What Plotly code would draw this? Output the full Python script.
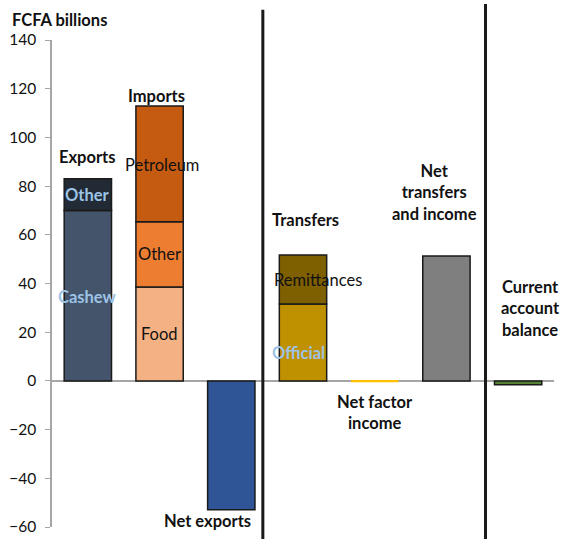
import plotly.graph_objects as go

# Balance of payments components, FCFA billions
categories = ["Exports", "Imports", "Net exports", "Transfers",
              "Net factor income", "Net transfers and income",
              "Current account balance"]

exports_cashew = 70.0
exports_other = 13.0
imports_food = 38.6
imports_other = 26.8
imports_petroleum = 47.5
net_exports = -52.9
transfers_official = 31.6
transfers_remittances = 20.1
net_factor_income = -0.6
net_transfers_income = 51.3
current_account = -1.6

y_ticks = [-60, -40, -20, 0, 20, 40, 60, 80, 100, 120, 140]

FONT = "Lato"
LABEL_SIZE = 16.5
OUTLINE = dict(color="#1a1a1a", width=1.5)

segments = [
    (categories[0], exports_cashew, "#44546A", OUTLINE),
    (categories[0], exports_other, "#222A35", OUTLINE),
    (categories[1], imports_food, "#F4B183", OUTLINE),
    (categories[1], imports_other, "#ED7D31", OUTLINE),
    (categories[1], imports_petroleum, "#C55A11", OUTLINE),
    (categories[2], net_exports, "#2F5597", OUTLINE),
    (categories[3], transfers_official, "#BF9000", OUTLINE),
    (categories[3], transfers_remittances, "#7F6000", OUTLINE),
    (categories[4], net_factor_income, "#FFC000", dict(width=0)),
    (categories[5], net_transfers_income, "#7F7F7F", OUTLINE),
    (categories[6], current_account, "#548235", OUTLINE),
]

fig = go.Figure()
for cat, val, color, line in segments:
    fig.add_trace(go.Bar(
        x=[cat], y=[val], marker=dict(color=color, line=line),
        showlegend=False, hoverinfo="skip",
    ))

LIGHT_BLUE = "#9DC3E6"
labels = [
    # (text, x position (category index), y value, bold, colour)
    ("Exports", 0.0, 92.0, True, "#111111"),
    ("Imports", 0.96, 117.0, True, "#111111"),
    ("Other", 0.0, 76.4, True, LIGHT_BLUE),
    ("Cashew", 0.0, 34.5, True, LIGHT_BLUE),
    ("Petroleum", 1.03, 88.7, False, "#111111"),
    ("Other", 1.0, 52.1, False, "#111111"),
    ("Food", 1.0, 19.3, False, "#111111"),
    ("Net exports", 1.67, -57.5, True, "#111111"),
    ("Transfers", 3.04, 66.1, True, "#111111"),
    ("Remittances", 3.21, 41.5, False, "#111111"),
    ("Official", 2.94, 11.5, True, LIGHT_BLUE),
    ("Net factor<br>income", 4.0, -13.1, True, "#111111"),
    ("Net<br>transfers<br>and income", 4.83, 77.2, True, "#111111"),
    ("Current<br>account<br>balance", 6.17, 29.6, True, "#111111"),
]
for text, x, y, bold, color in labels:
    fig.add_annotation(
        x=x, y=y, xref="x", yref="y", showarrow=False,
        text=f"<b>{text}</b>" if bold else text,
        font=dict(family=FONT, size=LABEL_SIZE, color=color),
        xanchor="center", yanchor="middle",
    )

fig.add_annotation(
    x=-0.083, y=1.041, xref="paper", yref="paper", showarrow=False,
    text="<b>FCFA billions</b>", xanchor="left", yanchor="middle",
    font=dict(family=FONT, size=LABEL_SIZE, color="#111111"),
)

# Section dividers
for xpos, ytop in [(2.44, 1.062), (5.545, 1.074)]:
    fig.add_shape(
        type="line", xref="x", yref="paper",
        x0=xpos, x1=xpos, y0=ytop, y1=-0.05,
        line=dict(color="#1a1a1a", width=3),
    )

fig.update_layout(
    width=563, height=539,
    margin=dict(l=52, r=9, t=40, b=12, autoexpand=False),
    barmode="relative",
    bargap=0.34,
    plot_bgcolor="white", paper_bgcolor="white",
    font=dict(family=FONT, size=15, color="#111111"),
)
fig.update_xaxes(
    type="category", categoryorder="array", categoryarray=categories,
    range=[-0.5, 6.5], showticklabels=False, showgrid=False,
    showline=False, zeroline=False, ticks="", automargin=False,
)
fig.update_yaxes(
    range=[-60, 140], tickvals=y_ticks, showgrid=False,
    zeroline=True, zerolinecolor="#A6A6A6", zerolinewidth=1.5,
    showline=True, linecolor="#A6A6A6", linewidth=1.5,
    ticks="outside", ticklen=5, tickcolor="#A6A6A6",
    ticklabelstandoff=6, automargin=False,
    tickfont=dict(family=FONT, size=15.5, color="#111111"),
)

fig.write_html("out.html")
